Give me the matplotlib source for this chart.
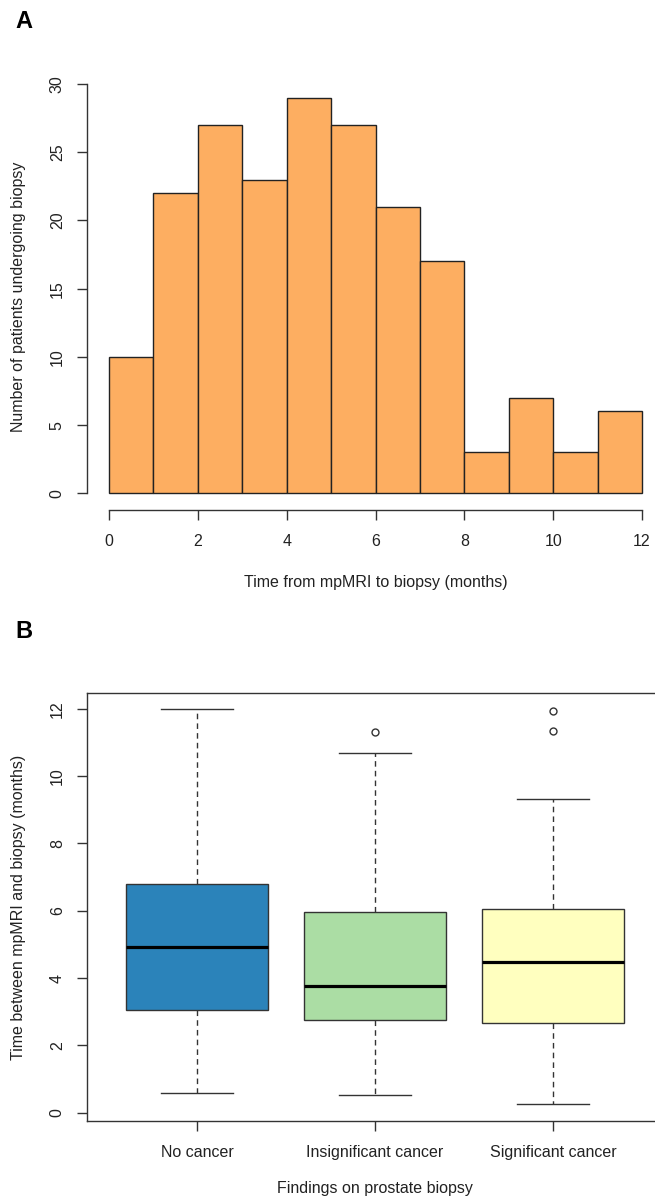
import matplotlib
matplotlib.use("Agg")
import matplotlib.pyplot as plt

# ---------------- data ----------------
bin_edges = [0, 1, 2, 3, 4, 5, 6, 7, 8, 9, 10, 11, 12]
counts = [10, 22, 27, 23, 29, 27, 21, 17, 3, 7, 3, 6]
hist_xticks = [0, 2, 4, 6, 8, 10, 12]
hist_yticks = [0, 5, 10, 15, 20, 25, 30]

groups = ["No cancer", "Insignificant cancer", "Significant cancer"]
whisker_low = [0.58, 0.52, 0.27]
q1 = [3.04, 2.76, 2.67]
median = [4.92, 3.78, 4.47]
q3 = [6.79, 5.96, 6.06]
whisker_high = [12.0, 10.67, 9.32]
outliers = [[], [11.32], [11.93, 11.34]]
box_yticks = [0, 2, 4, 6, 8, 10, 12]
box_colors = ["#2B83BA", "#ABDDA4", "#FFFFBF"]
hist_color = "#FDAE61"

# ---------------- style ----------------
plt.rcParams['font.family'] = ['Liberation Sans', 'DejaVu Sans']
TXT = "#222222"
LN = "#333333"
FS = 11.5

W, H = 655, 1201
fig = plt.figure(figsize=(W / 100, H / 100), dpi=100)
fig.patch.set_facecolor("white")


def px_rect(l, t, r, b):
    return [l / W, 1 - b / H, (r - l) / W, (b - t) / H]


# ---------------- panel A ----------------
axA = fig.add_axes(px_rect(87, 84, 655, 510))
axA.bar(bin_edges[:-1], counts, width=1, align="edge", color=hist_color,
        edgecolor="#222222", linewidth=1.0, zorder=2)
px_per_x = (642 - 109) / 12
px_per_y = (493.3 - 84) / 30
axA.set_xlim(-(109 - 87) / px_per_x, (655 - 109) / px_per_x)
axA.set_ylim(-(510 - 493.3) / px_per_y, 30)
for s in ["top", "right"]:
    axA.spines[s].set_visible(False)
axA.spines["left"].set_bounds(0, 30)
axA.spines["bottom"].set_bounds(0, 12)
for s in ["left", "bottom"]:
    axA.spines[s].set_color(LN)
    axA.spines[s].set_linewidth(1.0)
axA.set_xticks(hist_xticks)
axA.set_yticks(hist_yticks)
axA.set_yticklabels([str(v) for v in hist_yticks], rotation=90, va="center")
axA.tick_params(axis="both", direction="out", length=7, width=1.0, color=LN,
                labelcolor=TXT, labelsize=FS)
axA.tick_params(axis="x", pad=10)
axA.tick_params(axis="y", pad=9)
axA.set_xlabel("Time from mpMRI to biopsy (months)", fontsize=FS, color=TXT)
axA.xaxis.set_label_coords((375.5 - 87) / 568, -(582 - 510) / 426)
axA.xaxis.label.set_va("center")
axA.set_ylabel("Number of patients undergoing biopsy", fontsize=FS, color=TXT)
axA.yaxis.set_label_coords((19 - 87) / 568, (510 - 296.5) / 426)
axA.yaxis.label.set_va("center")
axA.patch.set_alpha(0)

fig.text(15 / W, 1 - 21 / H, "A", fontsize=17, fontweight="bold",
         color="black", va="center", ha="left")

# ---------------- panel B ----------------
axB = fig.add_axes(px_rect(87, 693, 752, 1121))
stats = []
for i, g in enumerate(groups):
    stats.append(dict(label=g, whislo=whisker_low[i], q1=q1[i], med=median[i],
                      q3=q3[i], whishi=whisker_high[i], fliers=outliers[i]))
bp = axB.bxp(stats, positions=[1, 2, 3], widths=0.8, patch_artist=True,
             capwidths=0.4,
             boxprops=dict(edgecolor=LN, linewidth=1.0),
             medianprops=dict(color="black", linewidth=2.3, solid_capstyle="butt"),
             whiskerprops=dict(color=LN, linewidth=1.0, linestyle=(0, (4, 3))),
             capprops=dict(color=LN, linewidth=1.0),
             flierprops=dict(marker="o", markersize=5, markerfacecolor="none",
                             markeredgecolor=LN, markeredgewidth=1.0,
                             linestyle="none"))
for patch, c in zip(bp["boxes"], box_colors):
    patch.set_facecolor(c)

ppx = 178.0
axB.set_xlim(1 - (197 - 87) / ppx, 1 + (752 - 197) / ppx)
ppy = (1112.8 - 708.7) / 12
axB.set_ylim(-(1121 - 1112.8) / ppy, (1112.8 - 693) / ppy)
for s in axB.spines.values():
    s.set_color(LN)
    s.set_linewidth(1.0)
axB.set_yticks(box_yticks)
axB.set_yticklabels([str(v) for v in box_yticks], rotation=90, va="center")
axB.set_xticks([1, 2, 3])
axB.set_xticklabels(groups)
axB.tick_params(axis="both", direction="out", length=7, width=1.0, color=LN,
                labelcolor=TXT, labelsize=FS)
axB.tick_params(axis="x", pad=10)
axB.tick_params(axis="y", pad=9)
axB.set_xlabel("Findings on prostate biopsy", fontsize=FS, color=TXT)
axB.xaxis.set_label_coords((375 - 87) / 665, -(1189 - 1121) / 428)
axB.xaxis.label.set_va("center")
axB.set_ylabel("Time between mpMRI and biopsy (months)", fontsize=FS, color=TXT)
axB.yaxis.set_label_coords((19 - 87) / 665, 0.5)
axB.yaxis.label.set_va("center")

fig.text(15 / W, 1 - 632 / H, "B", fontsize=17, fontweight="bold",
         color="black", va="center", ha="left")

fig.savefig("out.png", dpi=100, facecolor="white")
